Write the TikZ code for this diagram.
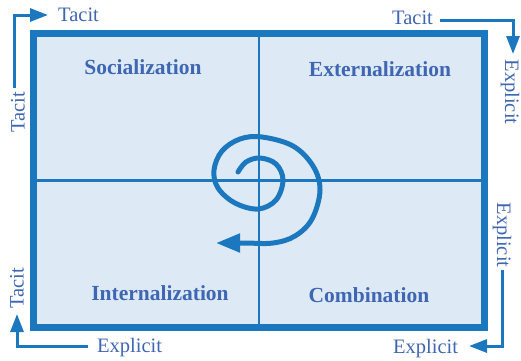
\documentclass[tikz,border=0pt]{standalone}
\usepackage{fontspec}
\setmainfont{Liberation Serif}
\usetikzlibrary{arrows.meta}
\definecolor{lineblue}{RGB}{28,120,190}
\definecolor{fillblue}{RGB}{221,234,246}
\definecolor{textblue}{RGB}{62,102,178}
\begin{document}
\begin{tikzpicture}[x=1pt,y=-1pt,
  quad/.style={font=\bfseries\fontsize{21.5}{24}\selectfont, text=textblue, anchor=base, inner sep=0pt},
  side/.style={font=\fontsize{20.5}{23}\selectfont, text=textblue, inner sep=0pt},
  flow/.style={draw=lineblue, line width=3pt, -{Triangle[length=18pt,width=13pt]}},
  spiral/.style={draw=lineblue, line width=5pt, line cap=round, -{Triangle[length=24pt,width=18pt]}}]
\useasboundingbox (0,0) rectangle (521,360);
\node[draw=lineblue, fill=fillblue, line width=7pt, minimum width=451pt, minimum height=294pt, inner sep=0pt, outer sep=0pt] (box) at (259,180.5) {};
\draw[lineblue, line width=2.5pt] (box.north) -- (box.south);
\draw[lineblue, line width=2.5pt] (box.west) -- (box.east);
% quadrant labels
\node[quad] (soc) at (143,74) {Socialization};
\node[quad] (ext) at (380,76) {Externalization};
\node[quad] (int) at (160,300) {Internalization};
\node[quad] (com) at (369,302) {Combination};
% side labels
\node[side, rotate=90] (t1) at (18,112) {Tacit};
\node[side, anchor=base west] (t2) at (58,21) {Tacit};
\node[side, anchor=base west] (t3) at (392,24) {Tacit};
\node[side, rotate=-90] (e1) at (510,92) {Explicit};
\node[side, rotate=-90] (e2) at (502,235) {Explicit};
\node[side, anchor=base west] (e3) at (393,353) {Explicit};
\node[side, anchor=base west] (e4) at (97,352) {Explicit};
\node[side, rotate=90] (t4) at (17,288) {Tacit};
% corner arrows
\coordinate (a1) at (14,88); \coordinate (b1) at (48,15);
\coordinate (a2) at (440,20); \coordinate (b2) at (513,54);
\coordinate (a3) at (502,270); \coordinate (b3) at (469,346);
\coordinate (a4) at (88,346); \coordinate (b4) at (17,314);
\draw[flow] (a1) |- (b1);
\draw[flow] (a2) -| (b2);
\draw[flow] (a3) |- (b3);
\draw[flow] (a4) -| (b4);
% spiral
\draw[spiral] plot[smooth, tension=0.6] coordinates {(238,172) (246,162) (260,158) (276,164) (283,180) (276,200) (258,209) (235,203) (218,188) (214,170) (222,151) (240,139) (262,137) (293,146) (313,166) (320,190) (312,219) (295,236) (273,243) (245,243) (216,243)};
\end{tikzpicture}
\end{document}
